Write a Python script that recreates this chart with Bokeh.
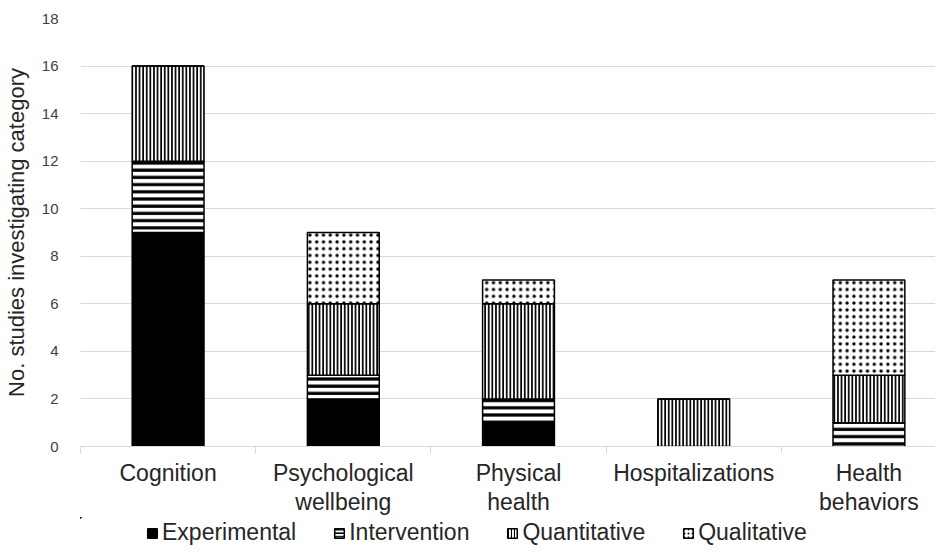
from bokeh.plotting import figure
from bokeh.models import (ColumnDataSource, Range1d, FixedTicker, Legend, LegendItem, LinearAxis)
from bokeh.layouts import column
from bokeh.embed import file_html
from bokeh.resources import INLINE

# ---- data ----
categories = ["Cognition", "Psychological wellbeing", "Physical health",
              "Hospitalizations", "Health behaviors"]
label_line1 = ["Cognition", "Psychological", "Physical", "Hospitalizations", "Health"]
label_line2 = ["", "wellbeing", "health", "", "behaviors"]
experimental = [9, 2, 1, 0, 0]
intervention = [3, 1, 1, 0, 1]
quantitative = [4, 3, 4, 2, 2]
qualitative = [0, 3, 1, 0, 4]
series_names = ["Experimental", "Intervention", "Quantitative", "Qualitative"]
y_ticks = [0, 2, 4, 6, 8, 10, 12, 14, 16, 18]
y_title = "No. studies investigating category"

# ---- styles ----
fills = ["black", "white", "white", "white"]
hatches = [" ", "horizontal_line", "vertical_line", "dot"]
hatch_scales = [1, 7.2, 3.6, 6.8]
hatch_weights = [1, 3.2, 1.8, 1.8]

xpos = list(range(len(categories)))
source = ColumnDataSource(data=dict(
    x=xpos,
    Experimental=experimental,
    Intervention=intervention,
    Quantitative=quantitative,
    Qualitative=qualitative,
))

TEXT = "#262626"
GRID = "#d9d9d9"
FONT = "Liberation Sans"

p = figure(width=935, height=517, output_backend="svg", toolbar_location=None,
           x_range=Range1d(-0.5, 4.38), y_range=Range1d(0, 18),
           min_border_left=76, min_border_right=0, min_border_top=18,
           min_border_bottom=71)
p.outline_line_color = None

renderers = p.vbar_stack(
    series_names, x="x", width=0.41, source=source,
    fill_color=fills, hatch_pattern=hatches, hatch_color="black",
    hatch_scale=hatch_scales, hatch_weight=hatch_weights,
    line_color="black", line_width=1.5,
)

# y axis
p.yaxis.ticker = FixedTicker(ticks=y_ticks)
p.yaxis.axis_line_color = None
p.yaxis.major_tick_line_color = None
p.yaxis.minor_tick_line_color = None
p.yaxis.major_label_standoff = 16
p.yaxis.major_label_text_font = FONT
p.yaxis.major_label_text_font_size = "15px"
p.yaxis.major_label_text_color = "#404040"
p.yaxis.axis_label = y_title
p.yaxis.axis_label_text_font = FONT
p.yaxis.axis_label_text_font_size = "22px"
p.yaxis.axis_label_text_font_style = "normal"
p.yaxis.axis_label_text_color = TEXT
p.yaxis.axis_label_standoff = 10

# x axis 1: boundary tick marks only
boundaries = [i - 0.5 for i in range(len(categories) + 1)]
p.xaxis.ticker = FixedTicker(ticks=boundaries)
p.xaxis.major_label_text_font_size = "0px"
p.xaxis.major_label_standoff = 0
p.xaxis.axis_line_color = GRID
p.xaxis.major_tick_line_color = GRID
p.xaxis.major_tick_out = 7
p.xaxis.major_tick_in = 0
p.xaxis.minor_tick_line_color = None


def label_axis(lines, standoff):
    ax = LinearAxis(ticker=FixedTicker(ticks=xpos),
                    major_label_overrides={i: t for i, t in zip(xpos, lines)})
    ax.axis_line_color = None
    ax.major_tick_line_color = None
    ax.minor_tick_line_color = None
    ax.major_tick_out = 0
    ax.major_tick_in = 0
    ax.major_label_standoff = standoff
    ax.major_label_text_font = FONT
    ax.major_label_text_font_size = "23px"
    ax.major_label_text_color = TEXT
    p.add_layout(ax, "below")
    return ax


label_axis(label_line1, 6)
label_axis(label_line2, 0)

p.xgrid.grid_line_color = None
p.ygrid.grid_line_color = GRID
p.ygrid.grid_line_width = 1

# ---- legend strip: same stacked bars kept entirely out of view, used only for the legend ----
p2 = figure(width=935, height=30, output_backend="svg", toolbar_location=None,
            x_range=Range1d(50, 51), y_range=Range1d(-20, -19),
            x_axis_location=None, y_axis_location=None,
            min_border_left=76, min_border_right=0, min_border_top=0, min_border_bottom=0)
p2.outline_line_color = None
p2.xgrid.grid_line_color = None
p2.ygrid.grid_line_color = None

legend_renderers = p2.vbar_stack(
    series_names, x="x", width=0.41, source=source,
    fill_color=fills, hatch_pattern=hatches, hatch_color="black",
    hatch_scale=[1, 3.5, 3.0, 4.0], hatch_weight=[1, 1.6, 1.2, 1.3],
    line_color="black", line_width=1.5,
)

legend = Legend(
    items=[LegendItem(label=n, renderers=[r]) for n, r in zip(series_names, legend_renderers)],
    orientation="horizontal", location=(66, 1),
    glyph_width=12, glyph_height=12, label_standoff=4, spacing=37,
    label_text_font=FONT, label_text_font_size="23px", label_text_color=TEXT,
    padding=0, margin=0, border_line_color=None, background_fill_alpha=0,
)
p2.add_layout(legend)

layout = column(p, p2, spacing=0)
open("out.html", "w").write(file_html(layout, INLINE))
